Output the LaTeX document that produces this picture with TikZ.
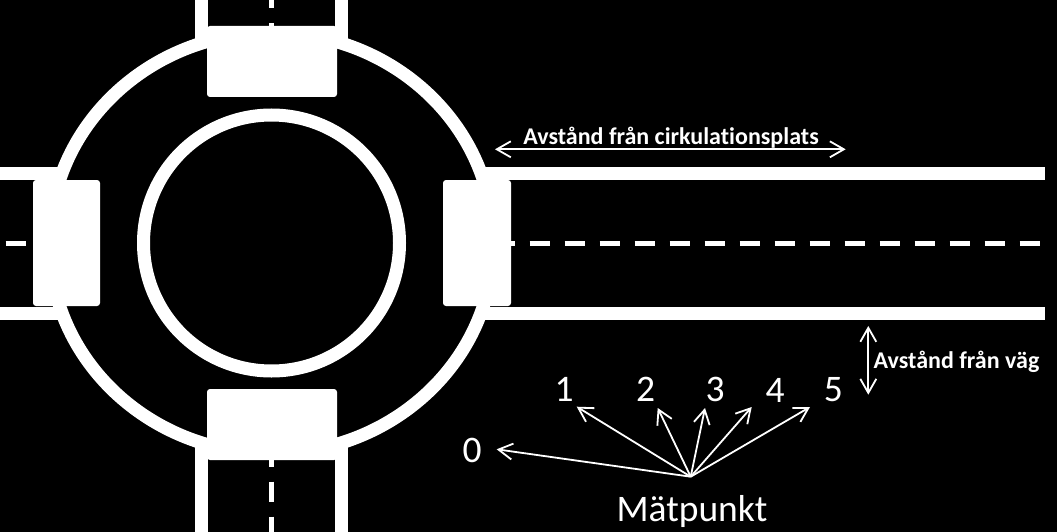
\documentclass[tikz,border=0pt]{standalone}
\usepackage{fontspec}
\setmainfont[Ligatures=NoCommon]{Carlito}
\usetikzlibrary{arrows.meta}
\tikzset{
    >={Straight Barb[length=14pt,width=16pt]},
    road/.style={line width=13pt,white},
    ring/.style={line width=13pt,white},
    midline/.style={line width=5pt,white,dash pattern=on 20pt off 15pt},
    crossing/.style={fill=white,rounded corners=3pt},
    ptarrow/.style={->,line width=1.8pt,white},
    dimarrow/.style={<->,line width=1.8pt,white},
    biglabel/.style={white,inner sep=0pt,font=\fontsize{37.5}{42}\selectfont},
    dimlabel/.style={white,inner sep=0pt,font=\bfseries\fontsize{24}{28}\selectfont}
}
\begin{document}
\begin{tikzpicture}[x=1pt,y=-1pt]
    % Background
    \fill[black] (0,0) rectangle (1057,532);
    \useasboundingbox (0,0) rectangle (1057,532);

    % Roundabout
    \draw[ring] (271.5,243) ellipse (222pt and 210.5pt);
    \draw[ring] (271.5,243) circle (128pt);

    % Roads
    \draw[road] (481.5,173) -- (1045,173);
    \draw[road] (481.5,313.3) -- (1045,313.3);
    \draw[road] (0,173) -- (61.5,173);
    \draw[road] (0,313.3) -- (61.5,313.3);
    \draw[road] (201.5,0) -- (201.5,43);
    \draw[road] (341,0) -- (341,43);
    \draw[road] (201.5,443) -- (201.5,532);
    \draw[road] (341,443) -- (341,532);

    % Center lines
    \draw[midline] (494.7,243) -- (1040,243);
    \draw[midline] (5.7,243) -- (60,243);
    \draw[midline] (271.5,-11.7) -- (271.5,60);
    \draw[midline] (271.5,446.7) -- (271.5,540);

    % Crossings
    \fill[crossing] (443,180) rectangle (511,306);
    \fill[crossing] (33,180) rectangle (100,306);
    \fill[crossing] (207,26) rectangle (337,97);
    \fill[crossing] (207,389) rectangle (337,460);

    % Measuring point
    \node[biglabel] (matpunkt) at (692,511) {Mätpunkt};
    \coordinate (apex) at (690.7,476.7);
    \node[biglabel] (n0) at (472,450) {0};
    \node[biglabel] (n1) at (564,389) {1};
    \node[biglabel] (n2) at (645.7,389) {2};
    \node[biglabel] (n3) at (715,389) {3};
    \node[biglabel] (n4) at (775,390) {4};
    \node[biglabel] (n5) at (833.3,390) {5};
    \coordinate (tip0) at (496.7,449.3);
    \coordinate (tip1) at (576.7,406.7);
    \coordinate (tip2) at (657.7,408);
    \coordinate (tip3) at (705,408);
    \coordinate (tip4) at (751.7,407);
    \coordinate (tip5) at (810,407);
    \draw[ptarrow] (apex) -- (tip0);
    \draw[ptarrow] (apex) -- (tip1);
    \draw[ptarrow] (apex) -- (tip2);
    \draw[ptarrow] (apex) -- (tip3);
    \draw[ptarrow] (apex) -- (tip4);
    \draw[ptarrow] (apex) -- (tip5);

    % Distances
    \coordinate (cirkleft) at (495,149.3);
    \coordinate (cirkright) at (845.7,149.3);
    \draw[dimarrow] (cirkleft) -- (cirkright);
    \node[dimlabel] (cirklabel) at (671,137.5) {Avstånd från cirkulationsplats};
    \coordinate (vagtop) at (868.3,326);
    \coordinate (vagbottom) at (868.3,394.7);
    \draw[dimarrow] (vagtop) -- (vagbottom);
    \node[dimlabel] (vaglabel) at (956.5,361.5) {Avstånd från väg};
\end{tikzpicture}
\end{document}
